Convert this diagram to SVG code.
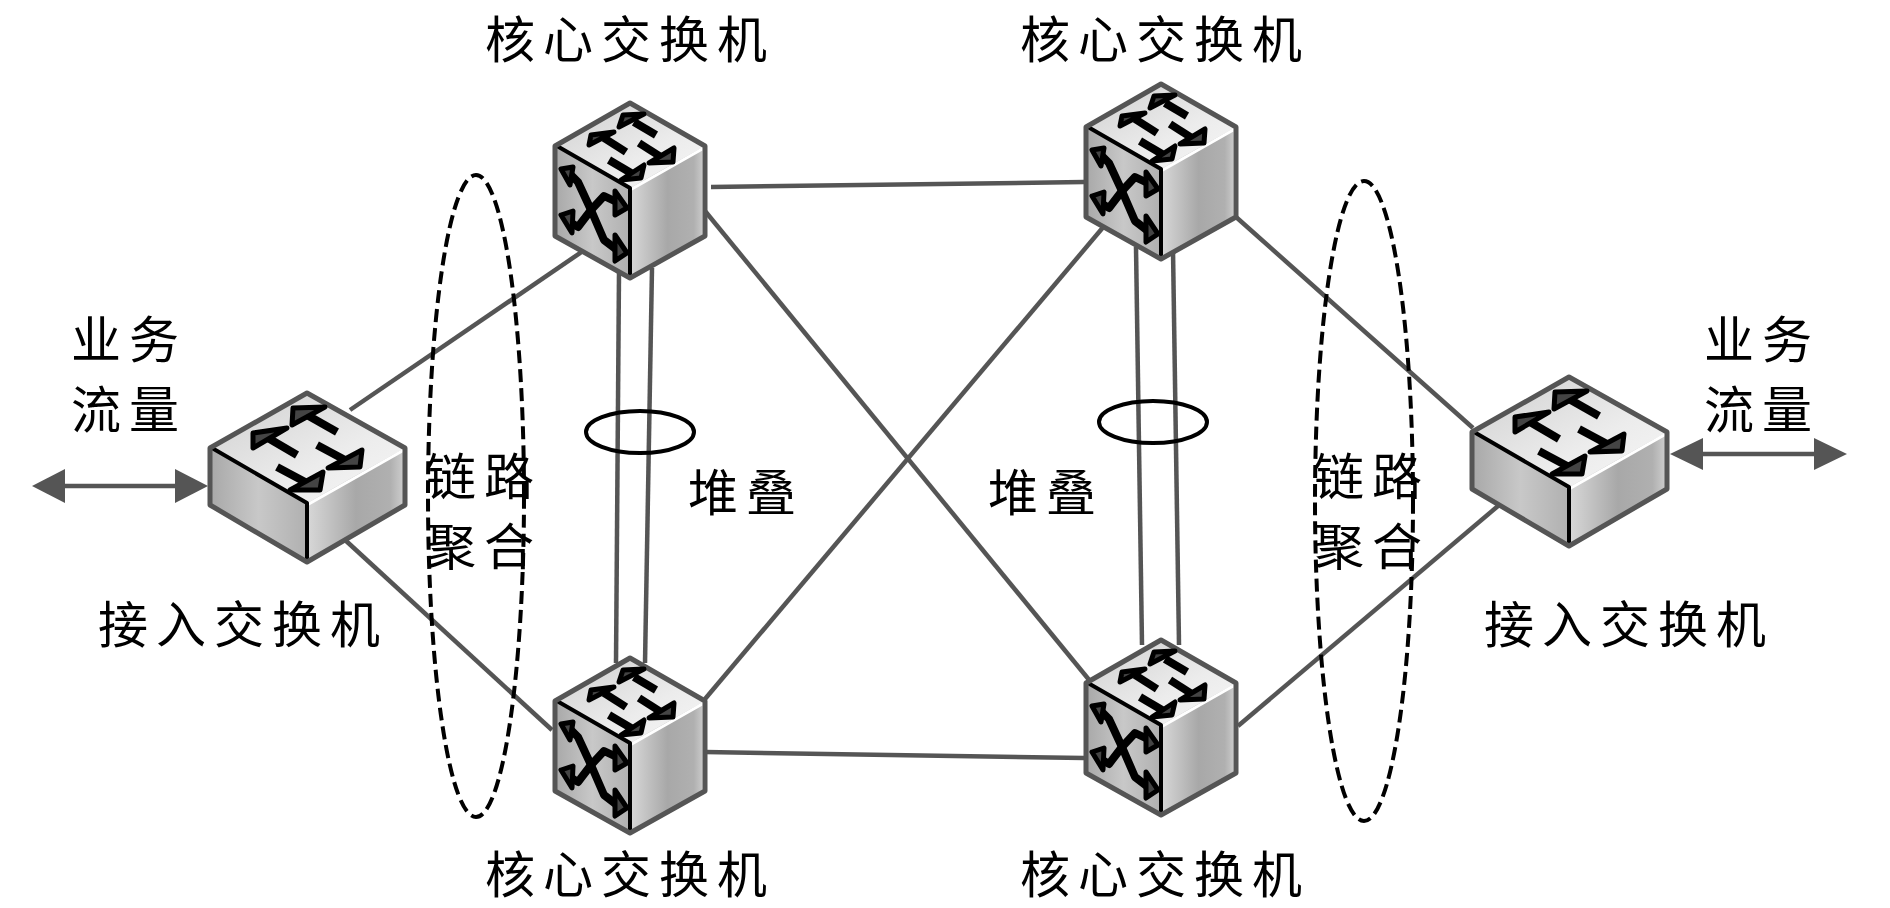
<svg xmlns="http://www.w3.org/2000/svg" width="1890" height="908" viewBox="0 0 1890 908">
<style>
text{font-family:"Noto Sans CJK SC","Noto Sans CJK JP",sans-serif;font-size:50px;letter-spacing:8px;fill:#000;text-anchor:middle}
.ln{stroke:#555;stroke-width:4.5;fill:none}
.dash{fill:none;stroke:#000;stroke-width:4;stroke-dasharray:13 6}
.ring{fill:none;stroke:#000;stroke-width:4}
.out{fill:none;stroke:#555;stroke-width:5;stroke-linejoin:round}
.blk{fill:none;stroke:#000;stroke-width:4;stroke-linejoin:round}
.wht{fill:none;stroke:#fff;stroke-width:3}
.shaft{fill:none;stroke:#000;stroke-width:8;stroke-linejoin:round}
.head{fill:#444;stroke:#000;stroke-width:5;stroke-linejoin:round}
.big{fill:#555}
</style>
<defs>
<linearGradient id="top" x1="0" y1="0" x2="1" y2="1"><stop offset="0" stop-color="#cfcfcf"/><stop offset=".6" stop-color="#ececec"/><stop offset="1" stop-color="#f6f6f6"/></linearGradient>
<linearGradient id="left" x1="0" y1="0" x2="1" y2="0"><stop offset="0" stop-color="#a8a8a8"/><stop offset=".5" stop-color="#c8c8c8"/><stop offset="1" stop-color="#b0b0b0"/></linearGradient>
<linearGradient id="right" x1="0" y1="0" x2="1" y2="0"><stop offset="0" stop-color="#d8d8d8"/><stop offset=".5" stop-color="#a8a8a8"/><stop offset=".85" stop-color="#b0b0b0"/><stop offset="1" stop-color="#d0d0d0"/></linearGradient>
<symbol id="cube" width="150" height="175" viewBox="0 0 150 175" overflow="visible">
<polygon points="75,0 150,43 75,85 0,43" fill="url(#top)"/>
<polygon points="0,43 75,85 75,175 0,133" fill="url(#left)"/>
<polygon points="75,85 150,43 150,133 75,175" fill="url(#right)"/>
<path class="wht" d="M75,87 L149,45 V132"/>
<path class="blk" d="M2,43 L75,85 V173"/>
<polygon class="out" points="75,0 150,43 150,133 75,175 0,133 0,43"/>
<path class="shaft" d="M101,32 L79,19"/><polygon class="head" points="89,11 64,24 68,12"/>
<path class="shaft" d="M71,49 L49,35"/><polygon class="head" points="59,29 34,42 36,32"/>
<path class="shaft" d="M84,40 L106,54"/><polygon class="head" points="119,45 118,59 94,60"/>
<path class="shaft" d="M54,57 L76,70"/><polygon class="head" points="89,62 86,75 66,77"/>
<path class="shaft" d="M12,68 L23,79 L36,107 L49,137 L66,150"/><polygon class="head" points="6,66 18,64 15,82"/><polygon class="head" points="60,132 72,150 60,158"/>
<path class="shaft" d="M12,117 L23,124 L36,107 L49,93 L68,102"/><polygon class="head" points="6,112 18,108 17,130"/><polygon class="head" points="60,88 72,105 60,112"/>
</symbol>
<symbol id="box" width="195" height="170" viewBox="0 0 195 170" overflow="visible">
<polygon points="97,0 195,55 97,110 0,55" fill="url(#top)"/>
<polygon points="0,55 97,110 97,169 0,112" fill="url(#left)"/>
<polygon points="97,110 195,55 195,112 97,169" fill="url(#right)"/>
<path class="wht" d="M97,112 L194,57"/>
<path class="blk" d="M2,55 L97,110 V167"/>
<polygon class="out" points="97,0 195,55 195,112 97,169 0,112 0,55"/>
<path class="shaft" d="M127,39 L97,22"/><polygon class="head" points="115,14 82,32 83,15"/>
<path class="shaft" d="M87,62 L58,45"/><polygon class="head" points="77,35 43,55 43,40"/>
<path class="shaft" d="M107,52 L135,67"/><polygon class="head" points="152,57 150,74 118,75"/>
<path class="shaft" d="M67,74 L97,90"/><polygon class="head" points="113,79 110,97 80,97"/>
</symbol>
</defs>
<rect width="1890" height="908" fill="#fff"/>
<g id="connectors">
<path class="ln" d="M711,187 L1084,182"/>
<path class="ln" d="M705,211 L1090,681"/>
<path class="ln" d="M705,699 L1105,225"/>
<path class="ln" d="M705,752 L1084,758"/>
<path class="ln" d="M350,410 L583,251"/>
<path class="ln" d="M344,539 L552,730"/>
<path class="ln" d="M1236,217 L1473,428"/>
<path class="ln" d="M1498,506 L1238,726"/>
<path class="ln" d="M619,272 L616,663"/>
<path class="ln" d="M652,268 L645,663"/>
<path class="ln" d="M1136,247 L1142,645"/>
<path class="ln" d="M1173,250 L1179,645"/>
<g id="flow-left"><path class="ln" d="M62,486 H178"/><polygon class="big" points="32,486 65,469 65,503"/><polygon class="big" points="208,486 175,469 175,503"/></g>
<g id="flow-right"><path class="ln" d="M1700,454 H1817"/><polygon class="big" points="1670,454 1703,438 1703,470"/><polygon class="big" points="1847,454 1814,438 1814,470"/></g>
</g>
<g id="lag-left"><ellipse class="dash" cx="476" cy="496" rx="48" ry="321"/><text><tspan x="484" y="495">链路</tspan><tspan x="484" y="565">聚合</tspan></text></g>
<g id="lag-right"><ellipse class="dash" cx="1364" cy="501" rx="49" ry="320"/><text><tspan x="1372" y="495">链路</tspan><tspan x="1372" y="565">聚合</tspan></text></g>
<g id="stack-left"><ellipse class="ring" cx="640" cy="432" rx="54" ry="21"/><text x="746" y="511">堆叠</text></g>
<g id="stack-right"><ellipse class="ring" cx="1153" cy="422" rx="54" ry="21"/><text x="1046" y="511">堆叠</text></g>
<g id="core-1"><use href="#cube" x="555" y="103"/><text x="630" y="58">核心交换机</text></g>
<g id="core-2"><use href="#cube" x="1086" y="84"/><text x="1165" y="58">核心交换机</text></g>
<g id="core-3"><use href="#cube" x="555" y="658"/><text x="630" y="893">核心交换机</text></g>
<g id="core-4"><use href="#cube" x="1086" y="640"/><text x="1165" y="893">核心交换机</text></g>
<g id="access-left"><use href="#box" x="210" y="393"/><text x="243" y="643">接入交换机</text></g>
<g id="access-right"><use href="#box" x="1472" y="377"/><text x="1629" y="643">接入交换机</text></g>
<g id="traffic-left"><text><tspan x="129" y="358">业务</tspan><tspan x="129" y="428">流量</tspan></text></g>
<g id="traffic-right"><text><tspan x="1762" y="358">业务</tspan><tspan x="1762" y="428">流量</tspan></text></g>
</svg>
